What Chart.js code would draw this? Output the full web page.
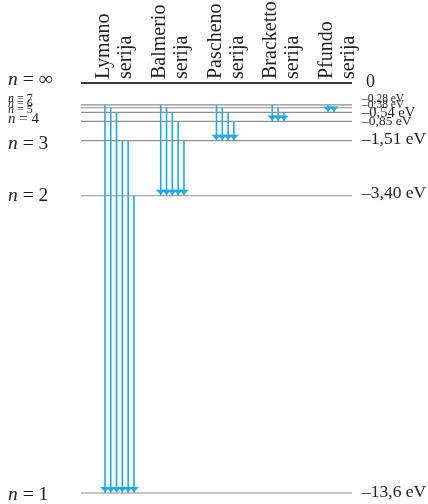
<!DOCTYPE html>
<html>
<head>
<meta charset="utf-8">
<script src="https://cdn.jsdelivr.net/npm/chart.js@4/dist/chart.umd.min.js"></script>
<style>body{margin:0;background:#fff}</style>
</head>
<body>
<canvas id="myChart" width="428" height="504"></canvas>
<script>
// hydrogen energy levels
const levelN = ['1', '2', '3', '4', '5', '6', '7'];
const levelEnergy = [-13.6, -3.40, -1.51, -0.85, -0.54, -0.38, -0.28];
const levelText = ['–13,6 eV', '–3,40 eV', '–1,51 eV', '–0,85 eV', '–0,54 eV', '–0,38 eV', '–0,28 eV'];
const infText = '0';

// spectral series: lower level and the upper levels of each drawn transition
const seriesNames = ['Lymano', 'Balmerio', 'Pascheno', 'Bracketto', 'Pfundo'];
const seriesLower = [1, 2, 3, 4, 5];
const seriesUpper = [[7, 6, 5, 3, 3, 2], [7, 6, 5, 4, 3], [7, 6, 5, 4], [7, 6, 5], [7, 6]];

window.onload = preparePage();

function preparePage() {
  const FONT = '"Liberation Serif", "DejaVu Serif", serif';
  const TXT = '#231f20';
  const BLUE = '#1cade9';
  const xMin = -0.43, xMax = 4.43;
  const yMin = -13.6, yMax = 0.47; // n = ∞ (0 eV) is drawn at the top, above a schematic gap
  const step = 0.104;

  const energyOf = n => levelEnergy[levelN.indexOf(String(n))];

  const datasets = [];
  levelEnergy.forEach(e => {
    datasets.push({
      data: [{x: xMin, y: e}, {x: xMax, y: e}],
      borderColor: '#8e8e8e', borderWidth: 1.2
    });
  });
  datasets.push({
    data: [{x: xMin, y: yMax}, {x: xMax, y: yMax}],
    borderColor: '#3a3a3a', borderWidth: 2
  });
  seriesUpper.forEach((ups, i) => {
    ups.forEach((u, k) => {
      const x = i + k * step;
      datasets.push({
        data: [{x: x, y: energyOf(u)}, {x: x, y: energyOf(seriesLower[i])}],
        borderColor: BLUE, borderWidth: 1.6, arrow: true
      });
    });
  });

  function nLabel(ctx, x, y, size, rest) {
    ctx.font = 'italic ' + size + 'px ' + FONT;
    ctx.fillText('n', x, y);
    const w = ctx.measureText('n').width;
    ctx.font = size + 'px ' + FONT;
    ctx.fillText(' = ' + rest, x + w, y);
  }

  const decor = {
    id: 'decor',
    afterDatasetsDraw(chart) {
      const ctx = chart.ctx;
      ctx.save();
      ctx.fillStyle = BLUE;
      chart.data.datasets.forEach((ds, i) => {
        if (!ds.arrow) return;
        const p = chart.getDatasetMeta(i).data[1];
        ctx.beginPath();
        ctx.moveTo(p.x - 5, p.y - 6);
        ctx.lineTo(p.x + 5, p.y - 6);
        ctx.lineTo(p.x, p.y - 1);
        ctx.closePath();
        ctx.fill();
      });
      ctx.restore();
    },
    afterDraw(chart) {
      const ctx = chart.ctx;
      const xs = chart.scales.x, ys = chart.scales.y;
      ctx.save();
      ctx.fillStyle = TXT;
      ctx.textBaseline = 'alphabetic';
      ctx.textAlign = 'left';

      // left: n labels
      const leftSize = [19.5, 19.5, 19.5, 15, 12, 12, 12];
      const leftOff = [7, 5.2, 8.4, 1.6, 0.6, -0.7, -3];
      levelN.forEach((n, i) => {
        nLabel(ctx, 8, ys.getPixelForValue(levelEnergy[i]) + leftOff[i], leftSize[i], n);
      });
      nLabel(ctx, 8, ys.getPixelForValue(yMax) + 2, 19.5, '∞');

      // right: energies
      const rightSize = [17.5, 17.5, 17.5, 13.5, 14.5, 11.5, 11.5];
      const rightOff = [3.7, 2.2, 3.4, 3.6, 4.6, 0, -2.8];
      levelText.forEach((t, i) => {
        ctx.font = rightSize[i] + 'px ' + FONT;
        ctx.fillText(t, 362, ys.getPixelForValue(levelEnergy[i]) + rightOff[i]);
      });
      ctx.font = '18px ' + FONT;
      ctx.fillText(infText, 366, ys.getPixelForValue(yMax) + 4);

      // series headers, rotated
      ctx.font = '20px ' + FONT;
      seriesNames.forEach((s, i) => {
        const px = xs.getPixelForValue(i);
        [[s, 4], ['serija', 26]].forEach(([t, dx]) => {
          ctx.save();
          ctx.translate(px + dx, 79);
          ctx.rotate(-Math.PI / 2);
          ctx.fillText(t, 0, 0);
          ctx.restore();
        });
      });
      ctx.restore();
    }
  };

  const ctx = document.getElementById('myChart').getContext('2d');
  new Chart(ctx, {
    type: 'scatter',
    data: {datasets: datasets.map(d => Object.assign({showLine: true, pointRadius: 0, clip: false, fill: false}, d))},
    options: {
      responsive: false,
      animation: false,
      devicePixelRatio: 1,
      layout: {padding: {left: 81, right: 76, top: 83, bottom: 11}},
      plugins: {legend: {display: false}, tooltip: {enabled: false}},
      scales: {
        x: {type: 'linear', min: xMin, max: xMax, display: false},
        y: {type: 'linear', min: yMin, max: yMax, display: false}
      }
    },
    plugins: [decor]
  });
}
</script>
</body>
</html>
